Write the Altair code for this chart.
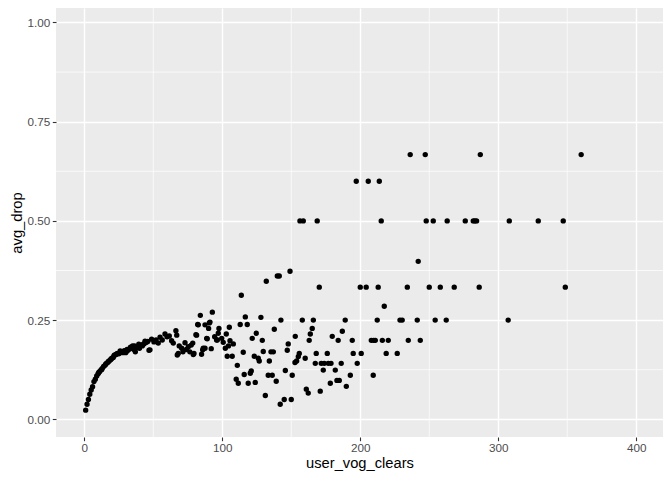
import altair as alt
import pandas as pd

# ---- data ----
clears = [
    # dense curve at low counts
    1, 2, 3, 4, 5, 6, 7, 8, 9, 10, 10.5, 11, 12, 12.5, 13, 14, 15, 15.5, 16, 17,
    17.5, 18, 19, 19.5, 20, 21, 21.5, 22, 23, 23.5, 24, 25, 26, 26, 27, 28, 28.5,
    29, 30, 31, 31, 32, 33, 33.5, 34, 35, 36, 36.5, 37, 38, 39, 39.5, 40, 41, 42,
    42.5, 43, 44, 44, 45, 46,
    # plateau 46-80
    46.9, 47.6, 48.8, 50.5, 52, 53.6, 54.9, 56.5, 58.5, 60, 61.6, 63.3, 64.5,
    66.4, 67, 67.4, 68.1, 68.8, 70.6, 71.5, 73, 74, 75.4, 76.5, 77.5, 78.6, 79.5, 79,
    # 80-112
    80.9, 81.4, 82.2, 82.6, 84.1, 85, 85.8, 86.2, 87.5, 87.5, 88.7, 89.1, 90.1,
    90.6, 91.1, 92, 92.8, 94.5, 95.9, 96.4, 97.1, 97.6, 99.6, 100.7, 102.2, 102.9,
    103.6, 104.5, 105.1, 105.6, 107.2, 108, 110.1, 110.9, 111.6,
    # 112-160
    113, 113.8, 115.2, 115.9, 116.7, 118.1, 118.8, 120.3, 121, 121.7, 123.2, 123.9,
    124.6, 126.1, 126.8, 128, 129, 129.7, 131.2, 131.9, 133.3, 134.1, 135.3, 136.2,
    137, 137.7, 139.1, 139.9, 141.3, 142, 142.5, 144.9, 145.7, 147.1, 147.8, 149.1,
    150, 150.7, 152.7, 152.9, 153.9, 155.1, 155.8, 156.3, 158, 158.7,
    # 160-221
    160.1, 160.9, 162.3, 163, 163.8, 165.2, 166, 167.4, 168.1, 168.8, 170.3, 171,
    171.7, 173.2, 173.9, 176.1, 176.8, 178.3, 178.8, 179.7, 181.9, 183.1, 184,
    184.8, 186.2, 187, 189.1, 189.9, 192.8, 194.2, 194.9, 197.1, 197.8, 200, 200.7,
    204.3, 205.8, 208, 209.4, 209.7, 210.9, 212.3, 213, 213.8, 215.2, 216, 217.4,
    218.8, 220.3,
    # 221-360
    226.8, 228.8, 230.4, 234.1, 234.8, 236.2, 241.3, 242, 243.5, 247.1, 247.8, 250,
    252.9, 254.3, 258, 262.3, 263, 268.1, 276.1, 281.9, 283.1, 284.3, 286.2, 287,
    307.2, 308, 329, 347.1, 348.6, 360.1,
]

avg_drop = [
    0.023, 0.038, 0.050, 0.063, 0.074, 0.082, 0.095, 0.101, 0.109, 0.115, 0.118, 0.120, 0.124, 0.125, 0.128, 0.133, 0.136, 0.139, 0.141, 0.143,
    0.146, 0.147, 0.150, 0.152, 0.154, 0.156, 0.160, 0.162, 0.163, 0.165, 0.166, 0.165, 0.172, 0.168, 0.170, 0.168, 0.171,
    0.173, 0.168, 0.172, 0.176, 0.175, 0.178, 0.182, 0.180, 0.185, 0.176, 0.185, 0.170, 0.180, 0.183, 0.189, 0.179, 0.186, 0.185,
    0.188, 0.190, 0.192, 0.197, 0.194, 0.196,
    0.174, 0.175, 0.202, 0.195, 0.200, 0.192, 0.207, 0.200, 0.215, 0.208, 0.210, 0.198, 0.192,
    0.223, 0.212, 0.162, 0.166, 0.185, 0.179, 0.170, 0.193, 0.176, 0.183, 0.170, 0.187, 0.192, 0.166, 0.163,
    0.213, 0.212, 0.239, 0.238, 0.262, 0.164, 0.175, 0.179, 0.238, 0.179, 0.204, 0.203, 0.229,
    0.243, 0.245, 0.178, 0.270, 0.208, 0.200, 0.200, 0.217, 0.229, 0.204, 0.194, 0.179, 0.215,
    0.159, 0.185, 0.232, 0.198, 0.159, 0.190, 0.101, 0.136, 0.091,
    0.239, 0.3125, 0.169, 0.113, 0.258, 0.239, 0.091, 0.116, 0.122, 0.204, 0.159, 0.093,
    0.217, 0.154, 0.147, 0.257, 0.199, 0.171, 0.060, 0.348, 0.111, 0.147, 0.170, 0.111,
    0.170, 0.227, 0.096, 0.361, 0.361, 0.038, 0.250, 0.050, 0.123, 0.174, 0.190, 0.373,
    0.050, 0.111, 0.143, 0.209, 0.147, 0.158, 0.166, 0.500, 0.250, 0.500,
    0.154, 0.076, 0.066, 0.199, 0.215, 0.229, 0.250, 0.141, 0.166, 0.500, 0.333, 0.071,
    0.141, 0.124, 0.141, 0.166, 0.141, 0.091, 0.141, 0.209, 0.124, 0.098, 0.199,
    0.098, 0.141, 0.222, 0.250, 0.083, 0.111, 0.199, 0.166, 0.600, 0.141, 0.333, 0.166,
    0.333, 0.600, 0.199, 0.111, 0.199, 0.199, 0.250, 0.333, 0.600, 0.500, 0.199, 0.285,
    0.166, 0.199,
    0.166, 0.250, 0.250, 0.333, 0.199, 0.667, 0.250, 0.398, 0.199, 0.667, 0.500, 0.333,
    0.500, 0.250, 0.333, 0.250, 0.500, 0.333, 0.500, 0.500, 0.500, 0.500, 0.333, 0.667,
    0.250, 0.500, 0.500, 0.500, 0.333, 0.667,
]

major_x = [0, 100, 200, 300, 400]
minor_x = [50, 150, 250, 350]
major_y = [0.0, 0.25, 0.5, 0.75, 1.0]
minor_y = [0.125, 0.375, 0.625, 0.875]

df = pd.DataFrame({"user_vog_clears": clears, "avg_drop": avg_drop})

FONT = "Liberation Sans"
xscale = alt.Scale(domain=[-20.5, 419.4], nice=False, zero=False)
yscale = alt.Scale(domain=[-0.0446, 1.0365], nice=False, zero=False)

common = dict(
    grid=True, gridColor="white", gridWidth=1.4, domain=False,
    tickColor="#333333", tickSize=3.7, tickWidth=1.1,
    labelColor="#4D4D4D", labelFont=FONT, labelFontSize=11.7,
    titleFont=FONT, titleFontSize=14.7, titleFontWeight="normal", titleColor="black",
    labelFlush=False, labelOverlap=False,
)
xaxis = alt.Axis(values=major_x, title="user_vog_clears", format="d", labelPadding=2,
                 titleY=30, titleBaseline="alphabetic", **common)
yaxis = alt.Axis(values=major_y, title="avg_drop", format=".2f", labelPadding=2.5,
                 titleX=-35, titleBaseline="alphabetic", **common)

minor_v = alt.Chart(pd.DataFrame({"user_vog_clears": minor_x})).mark_rule(
    color="white", strokeWidth=0.7
).encode(x=alt.X("user_vog_clears:Q", scale=xscale, axis=xaxis))

minor_h = alt.Chart(pd.DataFrame({"avg_drop": minor_y})).mark_rule(
    color="white", strokeWidth=0.7
).encode(y=alt.Y("avg_drop:Q", scale=yscale, axis=yaxis))

pts = alt.Chart(df).mark_circle(size=29, color="black", opacity=1).encode(
    x=alt.X("user_vog_clears:Q", scale=xscale, axis=xaxis),
    y=alt.Y("avg_drop:Q", scale=yscale, axis=yaxis),
)

chart = alt.layer(minor_v, minor_h, pts).properties(
    width=607, height=429,
    autosize=alt.AutoSizeParams(type="none"),
    padding={"left": 48, "top": 0, "right": 1, "bottom": 35},
    background="white",
).configure_view(fill="#EBEBEB", strokeWidth=0)

chart.save("out.html", embed_options={"renderer": "svg", "actions": False})
